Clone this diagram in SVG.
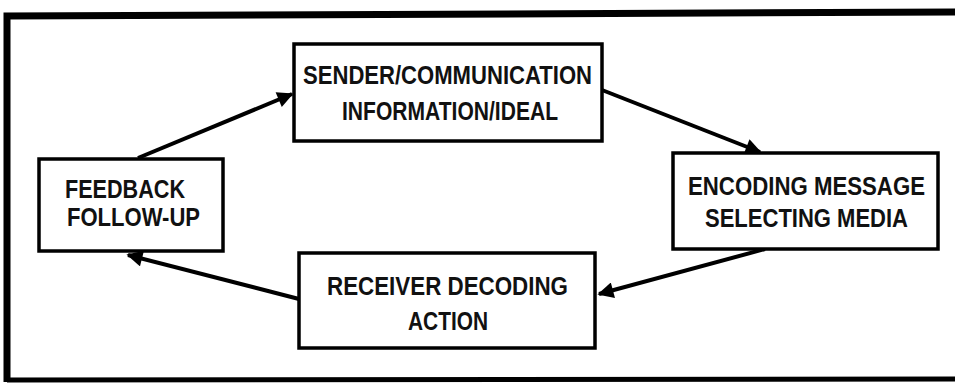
<svg xmlns="http://www.w3.org/2000/svg" width="955" height="385" viewBox="0 0 955 385">
  <style>
    .box { fill: #fff; stroke: #000; stroke-width: 3.5; }
    .lbl { font-family: "Liberation Sans", Arial, sans-serif; font-weight: bold; font-size: 25px; fill: #111; }
    .link { stroke: #000; stroke-width: 4; fill: none; marker-end: url(#head); }
  </style>
  <defs>
    <marker id="head" viewBox="0 0 10 10" refX="9" refY="5" markerWidth="4.5" markerHeight="4" orient="auto" markerUnits="strokeWidth">
      <path d="M0,0 L10,5 L0,10 z" fill="#000"/>
    </marker>
  </defs>
  <rect width="955" height="385" fill="#fff"/>
  <!-- outer frame -->
  <path d="M7,382 L7,16 L960,12" fill="none" stroke="#000" stroke-width="7"/>
  <path d="M7,380 L960,379" fill="none" stroke="#000" stroke-width="5"/>

  <g id="connectors">
    <line class="link" x1="138" y1="158" x2="292" y2="94"/>
    <line class="link" x1="602" y1="90" x2="760" y2="152"/>
    <line class="link" x1="765" y1="249" x2="599" y2="294"/>
    <line class="link" x1="299" y1="299" x2="128" y2="255"/>
  </g>

  <g id="sender">
    <rect class="box" x="294" y="44" width="308" height="97"/>
    <text class="lbl" x="303" y="84" textLength="289" lengthAdjust="spacingAndGlyphs">SENDER/COMMUNICATION</text>
    <text class="lbl" x="342" y="120" textLength="216" lengthAdjust="spacingAndGlyphs">INFORMATION/IDEAL</text>
  </g>

  <g id="feedback">
    <rect class="box" x="39" y="159" width="184" height="92"/>
    <text class="lbl" x="65" y="198" textLength="120" lengthAdjust="spacingAndGlyphs">FEEDBACK</text>
    <text class="lbl" x="67" y="226" textLength="133" lengthAdjust="spacingAndGlyphs">FOLLOW-UP</text>
  </g>

  <g id="encoding">
    <rect class="box" x="673" y="153" width="265" height="96"/>
    <text class="lbl" x="688" y="195" textLength="237" lengthAdjust="spacingAndGlyphs">ENCODING MESSAGE</text>
    <text class="lbl" x="705" y="227" textLength="203" lengthAdjust="spacingAndGlyphs">SELECTING MEDIA</text>
  </g>

  <g id="receiver">
    <rect class="box" x="299" y="253" width="296" height="95"/>
    <text class="lbl" x="327" y="295" textLength="241" lengthAdjust="spacingAndGlyphs">RECEIVER DECODING</text>
    <text class="lbl" x="408" y="330" textLength="80" lengthAdjust="spacingAndGlyphs">ACTION</text>
  </g>
</svg>
